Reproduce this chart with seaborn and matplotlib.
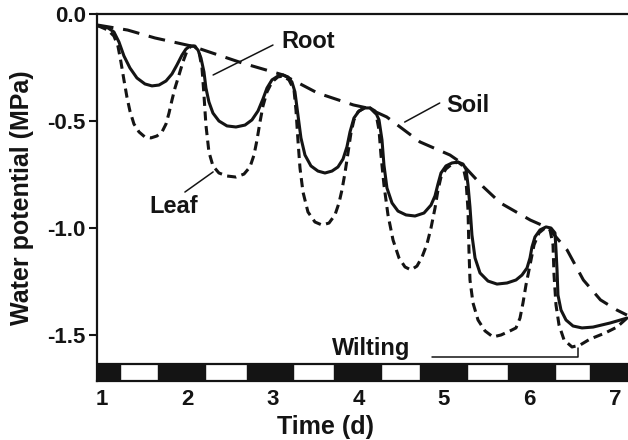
import matplotlib
matplotlib.use("Agg")
import matplotlib.pyplot as plt
import pandas as pd
import seaborn as sns

# Time (days) and water potential (MPa) for each compartment
root_t = [0.953, 1.070, 1.140, 1.199, 1.257, 1.327, 1.409, 1.503, 1.585, 1.667,
          1.749, 1.819, 1.877, 1.936, 1.982, 2.029, 2.076, 2.123, 2.158, 2.193,
          2.216, 2.251, 2.298, 2.368, 2.462, 2.567, 2.673, 2.754, 2.825, 2.883,
          2.930, 2.988, 3.058, 3.117, 3.175, 3.222, 3.257, 3.292, 3.327, 3.374,
          3.444, 3.526, 3.608, 3.690, 3.760, 3.819, 3.865, 3.901, 3.947, 4.006,
          4.076, 4.135, 4.193, 4.240, 4.275, 4.298, 4.333, 4.392, 4.462, 4.556,
          4.661, 4.766, 4.848, 4.895, 4.930, 4.965, 5.023, 5.094, 5.164, 5.222,
          5.257, 5.281, 5.304, 5.327, 5.363, 5.421, 5.515, 5.620, 5.737, 5.842,
          5.912, 5.971, 6.006, 6.029, 6.064, 6.123, 6.193, 6.251, 6.298, 6.310,
          6.322, 6.333, 6.368, 6.427, 6.509, 6.614, 6.743, 6.942, 7.140]
root_psi = [-0.055, -0.065, -0.084, -0.131, -0.196, -0.252, -0.299, -0.327, -0.336, -0.332,
            -0.313, -0.280, -0.238, -0.192, -0.164, -0.150, -0.150, -0.168, -0.206, -0.271,
            -0.346, -0.411, -0.463, -0.500, -0.523, -0.528, -0.519, -0.495, -0.453, -0.397,
            -0.346, -0.308, -0.290, -0.285, -0.294, -0.318, -0.364, -0.472, -0.579, -0.659,
            -0.710, -0.734, -0.743, -0.734, -0.715, -0.678, -0.621, -0.551, -0.486, -0.453,
            -0.439, -0.439, -0.453, -0.495, -0.589, -0.706, -0.813, -0.883, -0.921, -0.939,
            -0.944, -0.930, -0.893, -0.850, -0.794, -0.743, -0.710, -0.696, -0.692, -0.701,
            -0.724, -0.799, -0.902, -1.033, -1.140, -1.210, -1.248, -1.262, -1.257, -1.243,
            -1.220, -1.187, -1.140, -1.089, -1.042, -1.009, -0.995, -1.000, -1.023, -1.103,
            -1.196, -1.313, -1.383, -1.430, -1.458, -1.467, -1.463, -1.444, -1.421]

leaf_t = [0.953, 1.070, 1.140, 1.187, 1.222, 1.257, 1.292, 1.327, 1.374, 1.433,
          1.503, 1.573, 1.643, 1.702, 1.749, 1.784, 1.819, 1.854, 1.901, 1.947,
          1.994, 2.041, 2.088, 2.135, 2.170, 2.193, 2.216, 2.251, 2.298, 2.368,
          2.462, 2.567, 2.661, 2.731, 2.778, 2.813, 2.848, 2.883, 2.930, 2.988,
          3.058, 3.117, 3.187, 3.246, 3.269, 3.292, 3.316, 3.351, 3.409, 3.491,
          3.573, 3.655, 3.725, 3.772, 3.807, 3.842, 3.877, 3.912, 3.947, 3.994,
          4.064, 4.135, 4.205, 4.240, 4.263, 4.298, 4.345, 4.404, 4.474, 4.544,
          4.614, 4.684, 4.743, 4.801, 4.848, 4.895, 4.930, 4.965, 5.023, 5.094,
          5.164, 5.222, 5.257, 5.281, 5.292, 5.304, 5.339, 5.398, 5.480, 5.573,
          5.667, 5.772, 5.842, 5.889, 5.924, 5.959, 6.006, 6.053, 6.111, 6.181,
          6.240, 6.275, 6.287, 6.310, 6.345, 6.404, 6.497, 6.591, 6.708, 6.883,
          7.023, 7.140]
leaf_psi = [-0.055, -0.075, -0.103, -0.150, -0.224, -0.308, -0.388, -0.453, -0.514, -0.551,
            -0.575, -0.579, -0.570, -0.551, -0.514, -0.463, -0.402, -0.346, -0.285, -0.224,
            -0.173, -0.150, -0.150, -0.178, -0.252, -0.379, -0.519, -0.645, -0.710, -0.743,
            -0.757, -0.762, -0.748, -0.715, -0.659, -0.589, -0.505, -0.430, -0.364, -0.318,
            -0.294, -0.290, -0.308, -0.355, -0.449, -0.589, -0.720, -0.832, -0.925, -0.972,
            -0.986, -0.977, -0.939, -0.883, -0.822, -0.743, -0.650, -0.556, -0.495, -0.458,
            -0.439, -0.439, -0.467, -0.542, -0.659, -0.799, -0.939, -1.056, -1.140, -1.182,
            -1.196, -1.178, -1.136, -1.075, -1.000, -0.907, -0.822, -0.762, -0.724, -0.701,
            -0.692, -0.710, -0.776, -0.916, -1.103, -1.243, -1.350, -1.430, -1.481, -1.509,
            -1.500, -1.481, -1.467, -1.421, -1.350, -1.266, -1.173, -1.079, -1.023, -1.000,
            -1.009, -1.079, -1.220, -1.360, -1.453, -1.523, -1.556, -1.547, -1.519, -1.491,
            -1.463, -1.421]

soil_t = [0.94, 1.30, 1.62, 2.05, 2.64, 3.12, 3.52, 3.94, 4.10, 4.33, 4.72, 5.07,
          5.19, 5.46, 5.66, 6.01, 6.22, 6.44, 6.63, 6.83, 7.02, 7.14]
soil_psi = [-0.051, -0.075, -0.112, -0.15, -0.229, -0.285, -0.369, -0.425, -0.439,
            -0.481, -0.598, -0.659, -0.692, -0.808, -0.883, -0.963, -1.0, -1.103,
            -1.243, -1.336, -1.383, -1.407]

# Dark periods shown in the light/dark bar (start, end in days)
night_start = [0.94, 1.66, 2.70, 3.71, 4.72, 5.75, 6.71]
night_end = [1.21, 2.21, 3.23, 4.26, 5.27, 6.30, 7.16]

y_ticks = [0.0, -0.5, -1.0, -1.5]
y_ticklabels = ["0.0", "-0.5", "-1.0", "-1.5"]
x_ticks = [1, 2, 3, 4, 5, 6, 7]
x_ticklabels = ["1", "2", "3", "4", "5", "6", "7"]

root = pd.DataFrame({"t": root_t, "psi": root_psi})
leaf = pd.DataFrame({"t": leaf_t, "psi": leaf_psi})
soil = pd.DataFrame({"t": soil_t, "psi": soil_psi})

sns.set_theme(style="white")
plt.rcParams["font.family"] = ["Liberation Sans", "DejaVu Sans"]
plt.rcParams["font.weight"] = "bold"

ink = "#141414"
fig = plt.figure(figsize=(6.28, 4.40), dpi=100)
ax = fig.add_axes([97 / 628, 59 / 440, 531 / 628, 367 / 440])

sns.lineplot(data=soil, x="t", y="psi", ax=ax, color=ink, linewidth=2.2,
             linestyle=(0, (5.5, 3.2)), sort=False)
sns.lineplot(data=leaf, x="t", y="psi", ax=ax, color=ink, linewidth=2.2,
             linestyle=(0, (3.0, 1.8)), sort=False, dash_joinstyle="round")
sns.lineplot(data=root, x="t", y="psi", ax=ax, color=ink, linewidth=2.2,
             sort=False, solid_joinstyle="round")

# light/dark bar along the bottom of the plot
bar_lo, bar_hi = -1.715, -1.636
ax.broken_barh([(0.90, 6.40)], (bar_lo, bar_hi - bar_lo), facecolors="white",
               edgecolors=ink, linewidth=1.6, zorder=3)
ax.broken_barh([(s, e - s) for s, e in zip(night_start, night_end)],
               (bar_lo, bar_hi - bar_lo), facecolors=ink, edgecolors=ink,
               linewidth=1.0, zorder=4)

# curve labels with leader lines
lab_kw = dict(fontsize=17, fontweight="bold", color=ink)
ax.text(3.10, -0.159, "Root", ha="left", va="baseline", **lab_kw)
ax.plot([2.30, 3.00], [-0.285, -0.145], color=ink, lw=1.1)
ax.text(5.03, -0.458, "Soil", ha="left", va="baseline", **lab_kw)
ax.plot([4.54, 4.95], [-0.505, -0.416], color=ink, lw=1.1)
ax.text(1.56, -0.930, "Leaf", ha="left", va="baseline", **lab_kw)
ax.plot([1.97, 2.30], [-0.832, -0.738], color=ink, lw=1.1)
ax.text(4.15, -1.593, "Wilting", ha="center", va="baseline", **lab_kw)
ax.plot([4.86, 6.57, 6.57], [-1.603, -1.603, -1.561], color=ink, lw=1.1)

ax.set_xlim(0.942, 7.152)
ax.set_ylim(bar_lo, 0.0)
ax.set_yticks(y_ticks)
ax.set_yticklabels(y_ticklabels)
ax.set_xticks(x_ticks)
ax.set_xticklabels(x_ticklabels)
ax.tick_params(axis="y", left=True, length=6, width=1.5, pad=2, labelsize=16,
               colors=ink)
ax.tick_params(axis="x", bottom=False, length=0, pad=6, labelsize=16, colors=ink)

ax.set_xlabel("Time (d)", fontsize=18, fontweight="bold", color=ink)
ax.set_ylabel("Water potential (MPa)", fontsize=18, fontweight="bold", color=ink)
ax.xaxis.set_label_coords(0.431, -0.092)
ax.yaxis.set_label_coords(-0.118, 0.5)

for side in ["left", "top", "bottom"]:
    ax.spines[side].set_color(ink)
    ax.spines[side].set_linewidth(1.6)
ax.spines["right"].set_visible(False)

fig.savefig("out.png", dpi=100)
